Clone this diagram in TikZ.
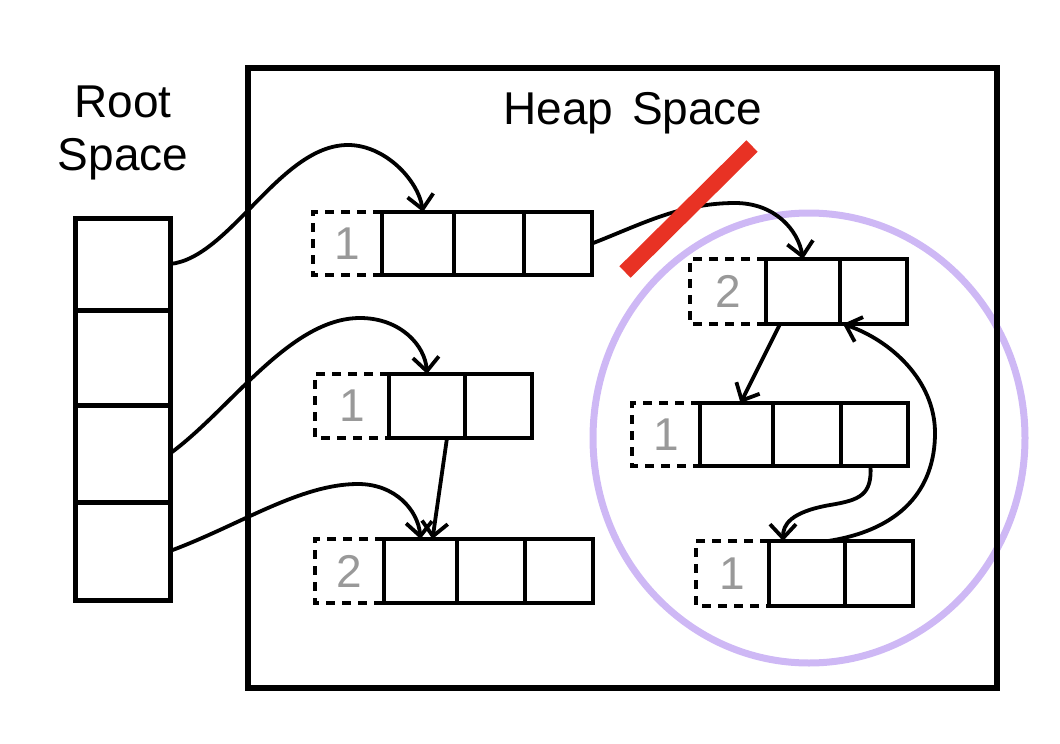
\documentclass[tikz,border=0pt]{standalone}
\usepackage{fontspec}
\setmainfont{Liberation Sans}
\usetikzlibrary{arrows.meta}
\definecolor{numgray}{HTML}{999999}
\definecolor{lav}{RGB}{206,184,245}
\definecolor{redbar}{RGB}{232,50,36}
\begin{document}
\begin{tikzpicture}[x=1pt,y=-1pt,
  cell/.style={draw,line width=4pt,inner sep=0pt,outer sep=0pt},
  rootcell/.style={draw,line width=5pt,inner sep=0pt,outer sep=0pt,minimum width=95pt},
  cnt/.style={inner sep=0pt,outer sep=0pt,text=numgray,font=\fontsize{46}{50}\selectfont},
  dashbox/.style={line width=4pt,dash pattern=on 9pt off 7pt},
  ptr/.style={line width=3.8pt,-{Straight Barb[length=14pt,width=26pt]}},
  lbl/.style={font=\fontsize{46}{53}\selectfont,inner sep=0pt,align=center}]
\useasboundingbox (0,0) rectangle (1060,744);
% purple ring
\draw[lav,line width=7pt] (809,438) ellipse [x radius=216,y radius=225];
% heap
\node[draw,line width=6pt,minimum width=749pt,minimum height=620pt,inner sep=0pt] (heap) at (622.5,378) {};
\node[lbl,anchor=base] (heaplbl) at (633,124) {Heap\hspace{6pt} Space};
\node[lbl,anchor=base] (rootlbl) at (123,170) {Root\\Space};
% root column
\node[rootcell,minimum height=92pt] (R1) at (122.5,264) {};
\node[rootcell,minimum height=95pt] (R2) at (122.5,357.5) {};
\node[rootcell,minimum height=97pt] (R3) at (122.5,453.5) {};
\node[rootcell,minimum height=98pt] (R4) at (122.5,551) {};
% object A
\node[cell,minimum width=72pt,minimum height=63pt] (A1) at (418,243.5) {};
\node[cell,minimum width=70pt,minimum height=63pt] (A2) at (489,243.5) {};
\node[cell,minimum width=68pt,minimum height=63pt] (A3) at (558,243.5) {};
\node[cnt,minimum width=69pt,minimum height=63pt] (Ac) at (347.5,243.5) {1};
% object B
\node[cell,minimum width=76pt,minimum height=64pt] (B1) at (427,406) {};
\node[cell,minimum width=67pt,minimum height=64pt] (B2) at (498.5,406) {};
\node[cnt,minimum width=74pt,minimum height=64pt] (Bc) at (352,406) {1};
% object C
\node[cell,minimum width=73pt,minimum height=64pt] (C1) at (420.5,571) {};
\node[cell,minimum width=68pt,minimum height=64pt] (C2) at (491,571) {};
\node[cell,minimum width=68pt,minimum height=64pt] (C3) at (559,571) {};
\node[cnt,minimum width=69pt,minimum height=64pt] (Cc) at (349.5,571) {2};
% object D
\node[cell,minimum width=74pt,minimum height=65pt] (D1) at (803,291.5) {};
\node[cell,minimum width=67pt,minimum height=65pt] (D2) at (873.5,291.5) {};
\node[cnt,minimum width=76pt,minimum height=65pt] (Dc) at (728,291.5) {2};
% object E
\node[cell,minimum width=73pt,minimum height=63pt] (E1) at (736.5,434.5) {};
\node[cell,minimum width=68pt,minimum height=63pt] (E2) at (807,434.5) {};
\node[cell,minimum width=67pt,minimum height=63pt] (E3) at (874.5,434.5) {};
\node[cnt,minimum width=68pt,minimum height=63pt] (Ec) at (666,434.5) {1};
% object F
\node[cell,minimum width=76pt,minimum height=65pt] (F1) at (807,573.5) {};
\node[cell,minimum width=68pt,minimum height=65pt] (F2) at (879,573.5) {};
\node[cnt,minimum width=73pt,minimum height=65pt] (Fc) at (732.5,573.5) {1};
% dashed count boxes
\foreach \n in {Ac,Bc,Cc,Dc,Ec,Fc}
  \draw[dashbox] (\n.north east) -- (\n.north west) -- (\n.south west) -- (\n.south east);
% pointers
\draw[ptr] (R1.east) .. controls (230,258) and (280,145) .. (348,145)
  .. controls (385,145) and (418,180) .. ([xshift=5pt]A1.north);
\draw[ptr] (R3.east) .. controls (230,410) and (290,318) .. (360,318)
  .. controls (400,318) and (425,345) .. (B1.north);
\draw[ptr] (R4.east) .. controls (240,525) and (300,484) .. (358,484)
  .. controls (395,484) and (418,510) .. (C1.north);
\draw[ptr] ([xshift=20pt]B1.south) -- ([xshift=12pt]C1.north);
\draw[ptr] (A3.east) .. controls (640,225) and (680,203) .. (735,203)
  .. controls (775,203) and (798,230) .. (D1.north);
\draw[ptr] ([xshift=-23pt]D1.south) -- ([xshift=4pt]E1.north);
\draw[ptr] ([xshift=-4pt]E3.south) .. controls (872,495) and (860,500) .. (830,505)
  .. controls (790,512) and (783,525) .. ([xshift=-24pt]F1.north);
\draw[ptr] ([xshift=21pt]F1.north) .. controls (900,530) and (935,490) .. (935,433)
  .. controls (935,380) and (890,340) .. ([xshift=3pt]D2.south west);
% red strike
\draw[redbar,line width=16pt] (625,272) -- (752,146);
\end{tikzpicture}
\end{document}
